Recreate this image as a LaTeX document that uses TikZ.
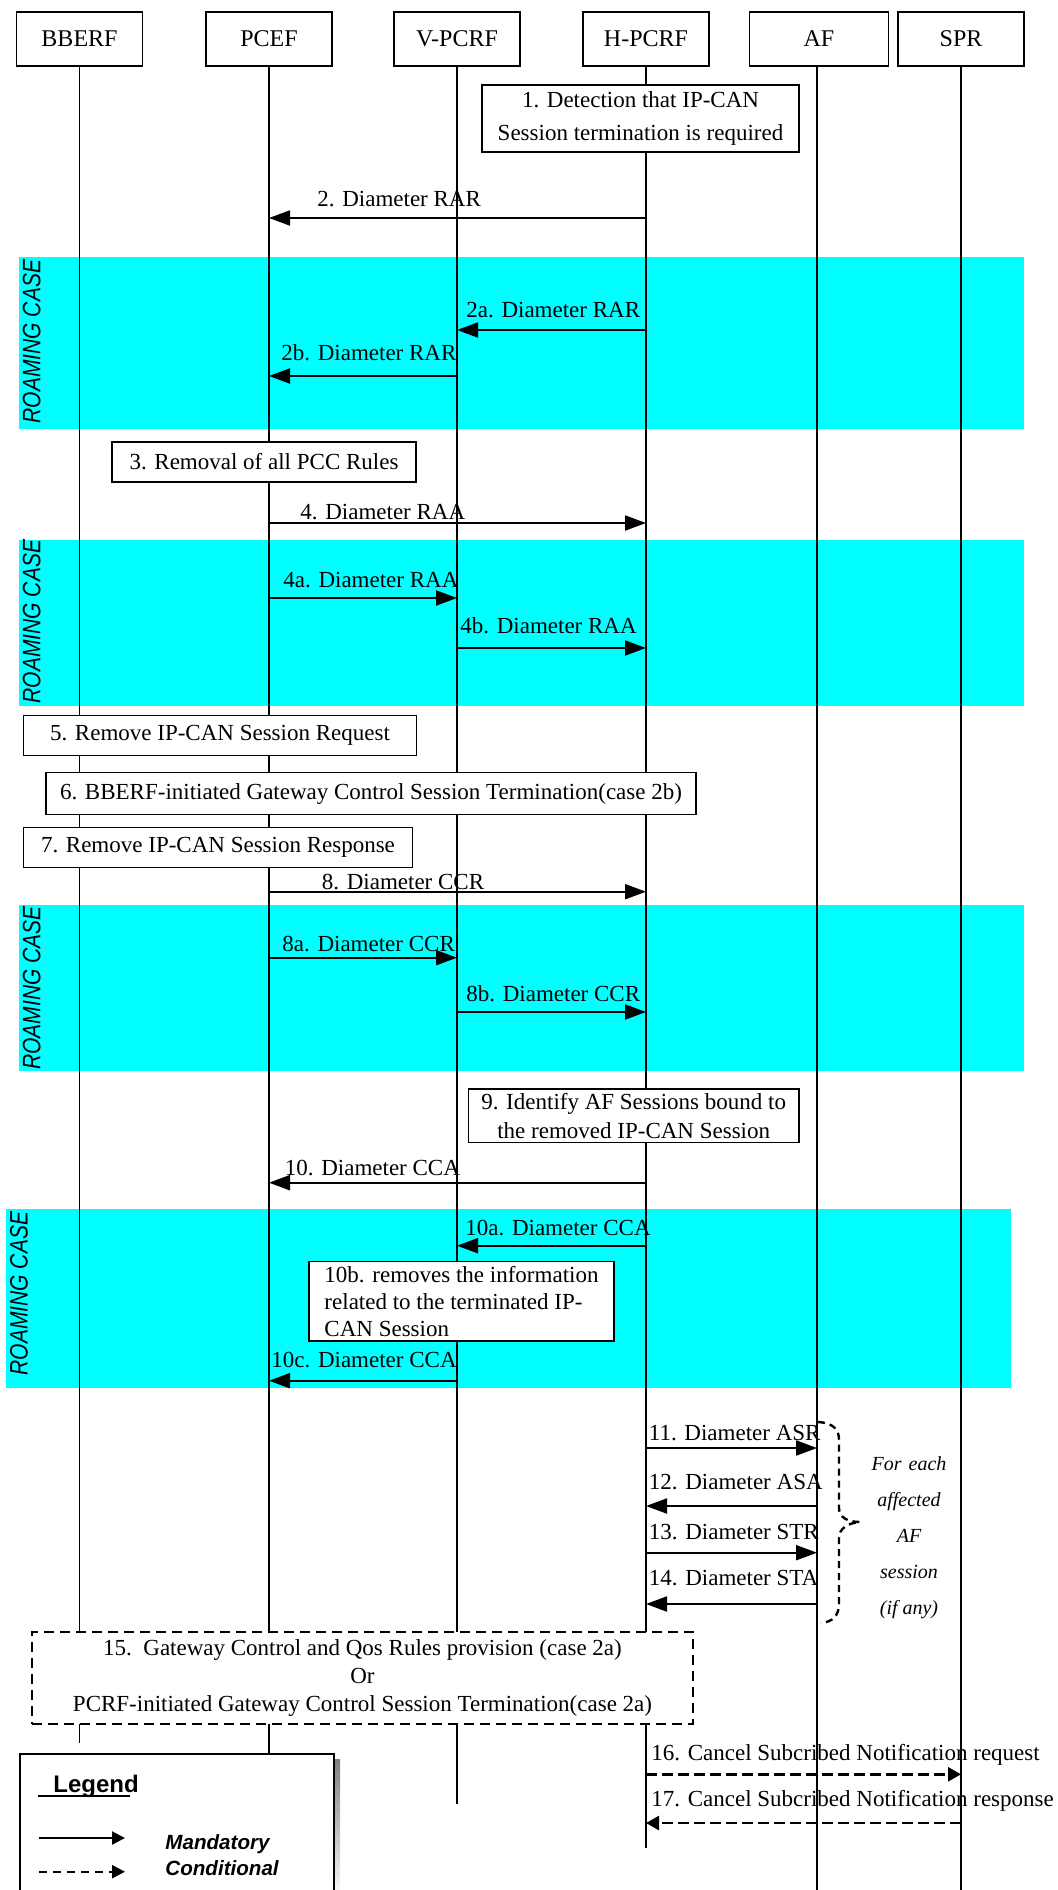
\documentclass[tikz,border=0pt]{standalone}
\usepackage{fontspec}
\setmainfont{Liberation Serif}
\setsansfont{Liberation Sans}
\usetikzlibrary{arrows.meta}
\definecolor{roam}{HTML}{00FFFF}
\definecolor{shade}{HTML}{808080}

\begin{document}
\begin{tikzpicture}[x=0.5pt, y=-0.5pt,
  actor/.style={draw, line width=0.7pt, fill=white, minimum width=63pt,
    minimum height=27pt, inner sep=0pt, font=\fontsize{12}{14}\selectfont},
  life/.style={line width=0.7pt},
  stepbox/.style={draw, line width=0.7pt, fill=white, inner sep=0pt,
    align=center, font=\fontsize{11.5}{14}\selectfont},
  msg/.style={line width=1pt, -{Triangle[length=10.5pt, width=7.5pt]}},
  optmsg/.style={line width=1.3pt, dash pattern=on 5.5pt off 2.5pt,
    -{Triangle[length=6.5pt, width=7pt]}},
  lbl/.style={inner sep=0pt, anchor=base west, font=\fontsize{11.5}{14}\selectfont},
  band/.style={fill=roam},
  bandtxt/.style={rotate=90, inner sep=0pt,
    font=\sffamily\itshape\fontsize{10.5}{12}\selectfont},
  legsolid/.style={line width=1.1pt, -{Triangle[length=6.5pt, width=6.5pt]}},
  legdash/.style={line width=1.1pt, dash pattern=on 4pt off 3pt,
    -{Triangle[length=6.5pt, width=6.5pt]}},
  legtxt/.style={inner sep=0pt, anchor=base west,
    font=\sffamily\bfseries\itshape\fontsize{10.3}{12}\selectfont},
]
\clip (0,0) rectangle (1057,1890);

% roaming bands
\fill[band] (19,257) rectangle (1024,429);
\fill[band] (19,540) rectangle (1024,706);
\fill[band] (19,905) rectangle (1024,1071);
\fill[band] (6,1209) rectangle (1011,1388);
\node[bandtxt] (rc1) at (31.7,341.5) {\scalebox{1}[1.2]{ROAMING CASE}};
\node[bandtxt] (rc2) at (31.7,621.5) {\scalebox{1}[1.2]{ROAMING CASE}};
\node[bandtxt] (rc3) at (31.7,988) {\scalebox{1}[1.2]{ROAMING CASE}};
\node[bandtxt] (rc4) at (19,1293.5) {\scalebox{1}[1.2]{ROAMING CASE}};

% actors
\node[actor] (bberf) at (79.5,39) {BBERF};
\node[actor] (pcef) at (269,39) {PCEF};
\node[actor] (vpcrf) at (457,39) {V-PCRF};
\node[actor] (hpcrf) at (646,39) {H-PCRF};
\node[actor, minimum width=69.5pt] (af) at (819,39) {AF};
\node[actor] (spr) at (961,39) {SPR};

% lifelines
\coordinate (bberfEnd) at (79.5,1743);
\coordinate (pcefEnd) at (269,1753);
\coordinate (vpcrfEnd) at (457,1804);
\coordinate (hpcrfEnd) at (646,1848);
\coordinate (afEnd) at (817,1890);
\coordinate (sprEnd) at (961,1890);
\draw[life] (bberf) -- (bberfEnd);
\draw[life] (pcef) -- (pcefEnd);
\draw[life] (vpcrf) -- (vpcrfEnd);
\draw[life] (hpcrf) -- (hpcrfEnd);
\draw[life] (af.south -| afEnd) -- (afEnd);
\draw[life] (spr) -- (sprEnd);

% process boxes
\node[stepbox, minimum width=158.5pt, minimum height=33.5pt,
  font=\fontsize{11.5}{16.5}\selectfont] (s1) at (640.5,118.5)
  {1. Detection that IP-CAN\\Session termination is required};
\node[stepbox, minimum width=152pt, minimum height=20pt] (s3) at (264,462)
  {3. Removal of all PCC Rules};
\node[stepbox, minimum width=196.5pt, minimum height=20pt] (s5) at (220,735.5)
  {5. Remove IP-CAN Session Request};
\node[stepbox, minimum width=325pt, minimum height=21pt] (s6) at (371,793.7)
  {6. BBERF-initiated Gateway Control Session Termination(case 2b)};
\node[stepbox, minimum width=194.5pt, minimum height=20pt] (s7) at (218,847.5)
  {7. Remove IP-CAN Session Response};
\node[stepbox, minimum width=165.25pt, minimum height=26.85pt,
  font=\fontsize{11.5}{14.2}\selectfont] (s9) at (633.7,1115.8)
  {9. Identify AF Sessions bound to\\the removed IP-CAN Session};
\node[stepbox, minimum width=152.5pt, minimum height=39.65pt, align=left,
  font=\fontsize{11.5}{13.5}\selectfont] (s10b) at (461.5,1301.3)
  {10b. removes the information\\related to the terminated IP-\\CAN Session};
\node[stepbox, dash pattern=on 5pt off 3pt, minimum width=330.5pt,
  minimum height=46pt, font=\fontsize{11.5}{14.2}\selectfont] (s15) at (362.5,1678)
  {15.\ \ Gateway Control and Qos Rules provision (case 2a)\\Or\\PCRF-initiated Gateway Control Session Termination(case 2a)};

% messages
\draw[msg] (hpcrf |- 0,218) -- (pcef |- 0,218);
\node[lbl] (m2) at (317,206.5) {2. Diameter RAR};
\draw[msg] (hpcrf |- 0,330) -- (vpcrf |- 0,330);
\node[lbl] (m2a) at (466,317.5) {2a. Diameter RAR};
\draw[msg] (vpcrf |- 0,376) -- (pcef |- 0,376);
\node[lbl] (m2b) at (281,360.5) {2b. Diameter RAR};
\draw[msg] (pcef |- 0,523) -- (hpcrf |- 0,523);
\node[lbl] (m4) at (300,519) {4. Diameter RAA};
\draw[msg] (pcef |- 0,598) -- (vpcrf |- 0,598);
\node[lbl] (m4a) at (283,587.5) {4a. Diameter RAA};
\draw[msg] (vpcrf |- 0,648) -- (hpcrf |- 0,648);
\node[lbl] (m4b) at (460,633.5) {4b. Diameter RAA};
\draw[msg] (pcef |- 0,891.7) -- (hpcrf |- 0,891.7);
\node[lbl] (m8) at (321.5,889) {8. Diameter CCR};
\draw[msg] (pcef |- 0,957.7) -- (vpcrf |- 0,957.7);
\node[lbl] (m8a) at (282,951.5) {8a. Diameter CCR};
\draw[msg] (vpcrf |- 0,1012) -- (hpcrf |- 0,1012);
\node[lbl] (m8b) at (466,1001.5) {8b. Diameter CCR};
\draw[msg] (hpcrf |- 0,1182.7) -- (pcef |- 0,1182.7);
\node[lbl] (m10) at (284.5,1175.5) {10. Diameter CCA};
\draw[msg] (hpcrf |- 0,1245.7) -- (vpcrf |- 0,1245.7);
\node[lbl] (m10a) at (465,1235.5) {10a. Diameter CCA};
\draw[msg] (vpcrf |- 0,1380.7) -- (pcef |- 0,1380.7);
\node[lbl] (m10c) at (271,1367.5) {10c. Diameter CCA};
\draw[msg] (hpcrf |- 0,1448) -- (afEnd |- 0,1448);
\node[lbl] (m11) at (648.5,1440.5) {11. Diameter ASR};
\draw[msg] (afEnd |- 0,1506) -- (hpcrf |- 0,1506);
\node[lbl] (m12) at (648.5,1489) {12. Diameter ASA};
\draw[msg] (hpcrf |- 0,1552.7) -- (afEnd |- 0,1552.7);
\node[lbl] (m13) at (648.5,1539) {13. Diameter STR};
\draw[msg] (afEnd |- 0,1604) -- (hpcrf |- 0,1604);
\node[lbl] (m14) at (648.5,1585.5) {14. Diameter STA};
\draw[optmsg] (hpcrf |- 0,1774.3) -- (spr |- 0,1774.3);
\node[lbl] (m16) at (651,1760.7) {16. Cancel Subcribed Notification request};
\draw[optmsg] (spr |- 0,1823) -- (hpcrf |- 0,1823);
\node[lbl] (m17) at (651,1806.7) {17. Cancel Subcribed Notification response};

% per-session brace and note
\draw[line width=1.2pt, dash pattern=on 3.5pt off 2.5pt]
  (818,1422) .. controls (834,1423) and (839,1430) .. (839,1440)
  -- (839,1508) .. controls (839,1517) and (847,1522) .. (860,1522)
  .. controls (847,1523) and (839,1529) .. (839,1538)
  -- (839,1604) .. controls (839,1615) and (833,1622) .. (821,1623);
\node[inner sep=0pt, anchor=north, align=center,
  font=\itshape\fontsize{10}{18}\selectfont] (note) at (909,1456.5)
  {For\hspace{0.35em}each\\affected\\AF\\session\\(if any)};

% legend
\fill[shade] (25,1759) rectangle (340,1900);
\node[draw, line width=1.2pt, fill=white, anchor=north west, inner sep=0pt,
  minimum width=157pt, minimum height=75pt] (legend) at (19,1753) {};
\node[inner sep=0pt, anchor=base west,
  font=\sffamily\bfseries\fontsize{12}{14}\selectfont] (legtitle) at (53,1792) {Legend};
\draw[line width=1pt] (38,1796) -- (130,1796);
\coordinate (lm0) at (39,1838);
\coordinate (lm1) at (125,1838);
\draw[legsolid] (lm0) -- (lm1);
\coordinate (lc0) at (39,1871.7);
\coordinate (lc1) at (125,1871.7);
\draw[legdash] (lc0) -- (lc1);
\node[legtxt] (mand) at (165,1849.3) {Mandatory};
\node[legtxt] (cond) at (165,1875) {Conditional};
\end{tikzpicture}
\end{document}
